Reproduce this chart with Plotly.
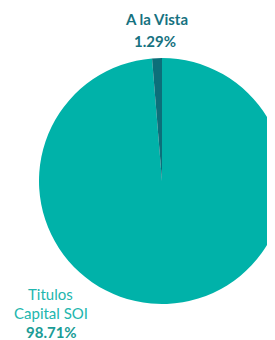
import plotly.graph_objects as go

labels = ["Titulos Capital SOI", "A la Vista"]
values = [98.71, 1.29]
slice_colors = ["#00B2A9", "#0C6F7A"]

# page body adds an 8px offset; figure coordinates are shifted accordingly
OFF = 8
W, H = 290, 340 - OFF

def fx(px):
    return (px - OFF) / W

def fy(py):
    return 1 - (py - OFF) / H

CX, CY, R = 162, 181, 123

fig = go.Figure(go.Pie(
    labels=labels,
    values=values,
    sort=False,
    direction="clockwise",
    rotation=0,
    textinfo="none",
    hoverinfo="label+percent",
    marker=dict(colors=slice_colors, line=dict(width=0)),
    domain=dict(x=[fx(CX - R), fx(CX + R)], y=[fy(CY + R), fy(CY - R)]),
    showlegend=False,
))

def ann(text, px, py, color, bold=False, size=15):
    t = f"<b>{text}</b>" if bold else text
    return dict(text=t, x=fx(px), y=fy(py), xref="paper", yref="paper",
                xanchor="center", yanchor="middle", showarrow=False,
                font=dict(family="Lato", size=size, color=color))

pct = [f"{v:.2f}%" for v in values]
annotations = [
    ann(labels[1], 156, 19, "#16727F", bold=True),
    ann(pct[1], 155, 41, "#16727F", bold=True),
    ann("Titulos", 50, 294, "#22B6AE"),
    ann("Capital SOI", 51, 313, "#22B6AE"),
    ann(pct[0], 51, 332, "#1A9C96", bold=True),
]

fig.update_layout(
    width=W, height=H,
    margin=dict(l=0, r=0, t=0, b=0),
    paper_bgcolor="white", plot_bgcolor="white",
    annotations=annotations,
)

fig.write_html("out.html")
